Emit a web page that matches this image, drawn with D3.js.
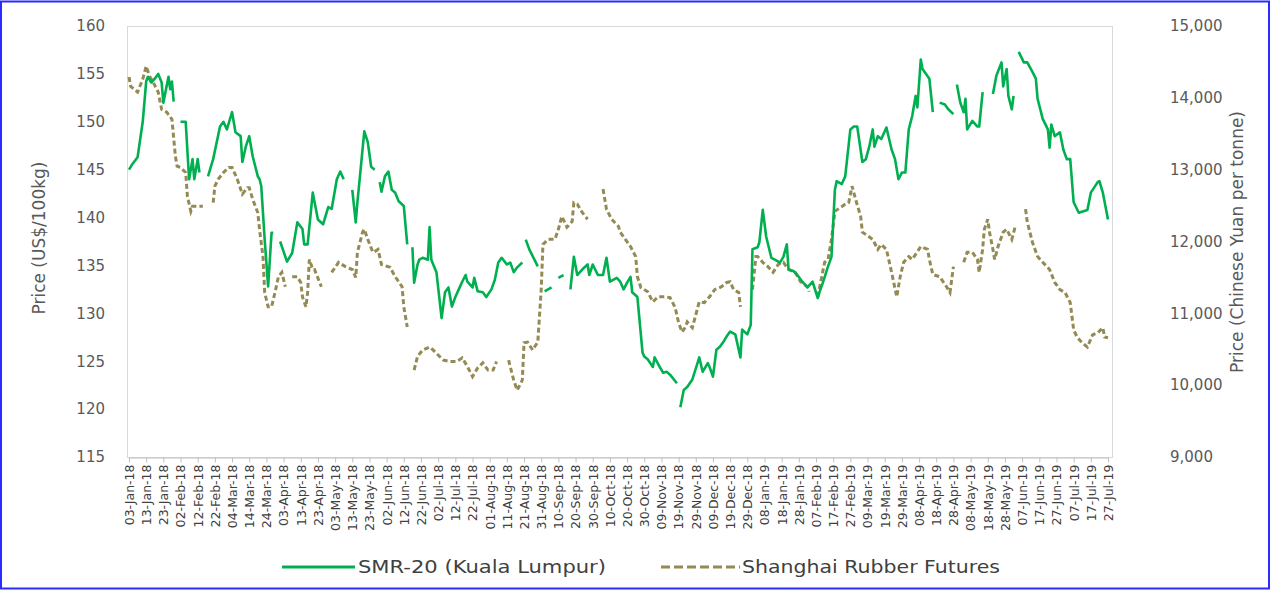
<!DOCTYPE html>
<html>
<head>
<meta charset="utf-8">
<script src="https://cdn.jsdelivr.net/npm/d3@7"></script>
<style>
  body { margin: 0; background: #fff; }
  text { font-family: "DejaVu Sans", sans-serif; fill: #595959; }
</style>
</head>
<body>
<svg id="chart" width="1271" height="596"></svg>
<script>
// SMR-20 (Kuala Lumpur), US$/100kg  (null = break in the line)
const smr20 = [
  ["2018-01-03",145.0],["2018-01-05",145.6],["2018-01-08",146.3],["2018-01-11",150.0],["2018-01-13",154.2],
  ["2018-01-14",154.7],["2018-01-16",154.1],["2018-01-18",154.5],["2018-01-20",155.0],["2018-01-22",154.1],
  ["2018-01-23",152.0],["2018-01-26",154.7],["2018-01-27",153.4],["2018-01-28",154.2],["2018-01-29",152.1],
  ["2018-01-31",null],
  ["2018-02-02",150.0],["2018-02-05",150.0],["2018-02-07",144.0],["2018-02-09",146.1],["2018-02-10",144.0],
  ["2018-02-12",146.1],["2018-02-13",144.7],["2018-02-15",null],
  ["2018-02-18",144.3],["2018-02-21",146.1],["2018-02-25",149.5],["2018-02-27",150.0],["2018-03-01",149.2],
  ["2018-03-04",151.0],["2018-03-06",148.9],["2018-03-09",148.5],["2018-03-10",145.8],["2018-03-12",147.4],
  ["2018-03-14",148.5],["2018-03-16",146.4],["2018-03-19",144.3],["2018-03-20",144.0],["2018-03-21",143.3],
  ["2018-03-23",137.7],["2018-03-25",132.8],["2018-03-27",138.4],["2018-03-28",138.4],["2018-03-30",null],
  ["2018-04-01",137.5],["2018-04-05",135.4],["2018-04-08",136.3],["2018-04-11",139.5],["2018-04-14",138.8],
  ["2018-04-15",137.2],["2018-04-17",137.2],["2018-04-20",142.6],["2018-04-23",139.8],["2018-04-26",139.3],
  ["2018-04-29",141.1],["2018-05-01",140.9],["2018-05-04",144.0],["2018-05-06",144.8],["2018-05-08",144.0],
  ["2018-05-10",null],
  ["2018-05-13",142.9],["2018-05-15",139.5],["2018-05-16",141.6],["2018-05-20",149.0],["2018-05-22",147.9],
  ["2018-05-24",145.3],["2018-05-26",145.0],["2018-05-28",null],
  ["2018-05-29",143.7],["2018-05-30",142.7],["2018-06-01",144.3],["2018-06-03",144.8],["2018-06-05",142.9],
  ["2018-06-07",142.6],["2018-06-09",141.7],["2018-06-12",141.2],["2018-06-14",137.2],["2018-06-16",null],
  ["2018-06-17",136.9],["2018-06-18",133.2],["2018-06-20",135.1],["2018-06-21",135.6],["2018-06-23",135.8],
  ["2018-06-26",135.6],["2018-06-27",139.0],["2018-06-28",135.6],["2018-07-01",134.3],["2018-07-04",129.5],
  ["2018-07-06",132.2],["2018-07-08",132.7],["2018-07-10",130.7],["2018-07-12",131.7],["2018-07-14",132.5],
  ["2018-07-16",133.3],["2018-07-18",134.0],["2018-07-19",133.3],["2018-07-22",132.7],["2018-07-23",133.7],
  ["2018-07-25",132.3],["2018-07-28",132.2],["2018-07-30",131.7],["2018-08-02",132.5],["2018-08-04",133.5],
  ["2018-08-06",135.3],["2018-08-08",135.8],["2018-08-11",135.1],["2018-08-13",135.3],["2018-08-15",134.3],
  ["2018-08-17",134.8],["2018-08-20",135.3],["2018-08-21",null],
  ["2018-08-22",137.7],["2018-08-24",136.7],["2018-08-29",134.9],["2018-08-31",null],
  ["2018-09-02",132.3],["2018-09-06",132.7],["2018-09-08",null],
  ["2018-09-10",133.7],["2018-09-13",134.0],["2018-09-15",null],
  ["2018-09-17",132.5],["2018-09-19",135.9],["2018-09-21",134.0],["2018-09-24",134.6],["2018-09-27",135.1],
  ["2018-09-28",134.0],["2018-09-30",135.1],["2018-10-03",134.0],["2018-10-06",134.0],["2018-10-08",135.8],
  ["2018-10-10",133.3],["2018-10-14",133.7],["2018-10-16",133.3],["2018-10-18",132.5],["2018-10-20",133.2],
  ["2018-10-22",133.8],["2018-10-23",132.2],["2018-10-26",131.7],["2018-10-29",125.9],["2018-10-30",125.5],
  ["2018-11-01",125.2],["2018-11-04",124.4],["2018-11-05",125.4],["2018-11-08",124.4],["2018-11-10",123.8],
  ["2018-11-12",123.9],["2018-11-14",123.6],["2018-11-18",122.7],["2018-11-19",null],
  ["2018-11-20",120.2],["2018-11-22",122.0],["2018-11-24",122.3],["2018-11-27",123.1],["2018-11-30",124.8],
  ["2018-12-01",125.4],["2018-12-03",123.9],["2018-12-06",124.8],["2018-12-07",124.4],["2018-12-09",123.4],
  ["2018-12-11",126.2],["2018-12-13",126.5],["2018-12-15",127.0],["2018-12-17",127.6],["2018-12-19",128.1],
  ["2018-12-22",127.8],["2018-12-25",125.4],["2018-12-26",128.3],["2018-12-29",127.8],["2018-12-31",128.8],
  ["2019-01-01",136.7],["2019-01-04",136.9],["2019-01-05",137.4],["2019-01-07",140.8],["2019-01-09",138.0],
  ["2019-01-12",135.8],["2019-01-14",135.6],["2019-01-17",135.3],["2019-01-19",135.9],["2019-01-21",137.2],
  ["2019-01-22",134.6],["2019-01-25",134.4],["2019-01-28",133.8],["2019-01-30",133.3],["2019-02-02",132.7],
  ["2019-02-05",133.3],["2019-02-08",131.6],["2019-02-09",132.2],["2019-02-11",133.2],["2019-02-14",134.9],
  ["2019-02-16",135.9],["2019-02-18",142.9],["2019-02-19",143.8],["2019-02-22",143.5],["2019-02-24",144.3],
  ["2019-02-27",149.2],["2019-03-01",149.5],["2019-03-03",149.5],["2019-03-06",145.8],["2019-03-08",146.1],
  ["2019-03-10",147.4],["2019-03-12",149.2],["2019-03-13",147.4],["2019-03-15",148.5],["2019-03-17",148.2],
  ["2019-03-20",149.4],["2019-03-23",147.1],["2019-03-25",146.1],["2019-03-27",144.0],["2019-03-29",144.7],
  ["2019-03-31",144.7],["2019-04-02",149.2],["2019-04-04",150.6],["2019-04-06",152.7],["2019-04-07",151.5],
  ["2019-04-09",156.5],["2019-04-10",155.5],["2019-04-14",154.5],["2019-04-16",151.0],["2019-04-18",null],
  ["2019-04-20",152.0],["2019-04-23",151.8],["2019-04-25",151.3],["2019-04-28",150.8],["2019-04-29",null],
  ["2019-04-30",153.9],["2019-05-02",152.0],["2019-05-04",151.0],["2019-05-05",152.4],["2019-05-06",149.2],
  ["2019-05-09",150.1],["2019-05-12",149.5],["2019-05-13",149.5],["2019-05-15",153.1],["2019-05-18",null],
  ["2019-05-21",152.9],["2019-05-23",154.8],["2019-05-26",156.2],["2019-05-27",153.7],["2019-05-29",155.5],
  ["2019-05-30",152.7],["2019-06-01",151.3],["2019-06-02",152.7],["2019-06-04",null],
  ["2019-06-05",157.3],["2019-06-08",156.2],["2019-06-10",156.2],["2019-06-13",155.2],["2019-06-15",154.5],
  ["2019-06-16",152.4],["2019-06-19",150.3],["2019-06-22",149.2],["2019-06-23",147.3],["2019-06-24",149.7],
  ["2019-06-26",148.5],["2019-06-29",148.9],["2019-07-01",147.1],["2019-07-03",146.1],["2019-07-05",146.1],
  ["2019-07-07",141.6],["2019-07-10",140.5],["2019-07-15",140.8],["2019-07-17",142.6],["2019-07-21",143.7],
  ["2019-07-22",143.8],["2019-07-24",142.6],["2019-07-27",139.8]
];

// Shanghai Rubber Futures, CNY/tonne
const shanghai = [
  ["2018-01-03",14290],["2018-01-04",14160],["2018-01-08",14080],["2018-01-11",14260],["2018-01-13",14440],
  ["2018-01-15",14300],["2018-01-17",14220],["2018-01-20",14080],["2018-01-22",13840],["2018-01-25",13800],
  ["2018-01-28",13700],["2018-01-30",13190],["2018-01-31",13050],["2018-02-02",13030],["2018-02-05",12960],
  ["2018-02-06",12630],["2018-02-08",12420],["2018-02-09",12490],["2018-02-15",12490],["2018-02-17",null],
  ["2018-02-21",12540],["2018-02-22",12770],["2018-02-24",12870],["2018-02-27",12960],["2018-03-02",13030],
  ["2018-03-04",13030],["2018-03-07",12870],["2018-03-10",12660],["2018-03-13",12750],["2018-03-14",12750],
  ["2018-03-16",12590],["2018-03-19",12400],["2018-03-20",12170],["2018-03-22",11790],["2018-03-23",11290],
  ["2018-03-25",11090],["2018-03-27",11090],["2018-03-29",11290],["2018-03-31",11510],["2018-04-02",11570],
  ["2018-04-04",11370],["2018-04-05",null],
  ["2018-04-08",11510],["2018-04-11",11510],["2018-04-13",11430],["2018-04-14",11230],["2018-04-16",11090],
  ["2018-04-17",11290],["2018-04-18",11750],["2018-04-20",11610],["2018-04-21",11610],["2018-04-25",11370],
  ["2018-04-28",null],
  ["2018-05-01",11570],["2018-05-05",11710],["2018-05-09",11650],["2018-05-13",11610],["2018-05-15",11500],
  ["2018-05-16",11850],["2018-05-19",12130],["2018-05-20",12170],["2018-05-22",12030],["2018-05-25",11850],
  ["2018-05-26",11860],["2018-05-28",11890],["2018-05-30",11680],["2018-06-04",11640],["2018-06-07",11510],
  ["2018-06-11",11370],["2018-06-12",11090],["2018-06-14",10810],["2018-06-16",null],
  ["2018-06-18",10210],["2018-06-20",10400],["2018-06-23",10490],["2018-06-27",10530],["2018-06-29",10490],
  ["2018-07-05",10350],["2018-07-09",10330],["2018-07-13",10330],["2018-07-16",10380],["2018-07-19",10260],
  ["2018-07-22",10120],["2018-07-25",10240],["2018-07-28",10310],["2018-07-31",10210],["2018-08-03",10210],
  ["2018-08-05",10330],["2018-08-08",null],
  ["2018-08-12",10350],["2018-08-15",10070],["2018-08-17",9930],["2018-08-20",10070],["2018-08-21",10590],
  ["2018-08-23",10600],["2018-08-26",10490],["2018-08-29",10600],["2018-08-31",11330],["2018-09-01",11960],
  ["2018-09-04",12030],["2018-09-08",12030],["2018-09-10",12170],["2018-09-12",12350],["2018-09-15",12200],
  ["2018-09-18",12280],["2018-09-19",12540],["2018-09-21",12520],["2018-09-24",12400],["2018-09-27",12310],
  ["2018-09-30",null],
  ["2018-10-06",12730],["2018-10-08",12450],["2018-10-11",12310],["2018-10-15",12210],["2018-10-16",12130],
  ["2018-10-19",12030],["2018-10-22",11930],["2018-10-25",11790],["2018-10-26",11510],["2018-10-28",11360],
  ["2018-11-01",11300],["2018-11-04",11160],["2018-11-07",11230],["2018-11-11",11230],["2018-11-14",11220],
  ["2018-11-17",11080],["2018-11-19",10870],["2018-11-21",10740],["2018-11-23",10810],["2018-11-24",10880],
  ["2018-11-27",10800],["2018-12-01",11160],["2018-12-04",11150],["2018-12-07",11230],["2018-12-10",11330],
  ["2018-12-14",11370],["2018-12-17",11430],["2018-12-19",11440],["2018-12-21",11330],["2018-12-24",11290],
  ["2018-12-25",11090],["2018-12-27",null],
  ["2019-01-01",11330],["2019-01-03",11790],["2019-01-04",11790],["2019-01-07",11710],["2019-01-10",11650],
  ["2019-01-13",11570],["2019-01-16",11680],["2019-01-19",11710],["2019-01-22",11610],["2019-01-26",11570],
  ["2019-01-29",11440],["2019-02-02",11370],["2019-02-03",11300],["2019-02-06",null],
  ["2019-02-08",11230],["2019-02-10",11470],["2019-02-12",11710],["2019-02-14",11750],["2019-02-16",12030],
  ["2019-02-18",12420],["2019-02-21",12470],["2019-02-24",12520],["2019-02-26",12540],["2019-02-28",12770],
  ["2019-03-02",12590],["2019-03-05",12350],["2019-03-06",12130],["2019-03-12",12030],["2019-03-15",11890],
  ["2019-03-17",11960],["2019-03-20",11890],["2019-03-23",11570],["2019-03-26",11230],["2019-03-28",11510],
  ["2019-03-30",11710],["2019-04-02",11790],["2019-04-04",11750],["2019-04-09",11930],["2019-04-13",11890],
  ["2019-04-14",11750],["2019-04-16",11540],["2019-04-20",11510],["2019-04-24",11370],["2019-04-26",11290],
  ["2019-04-28",11650],["2019-04-30",null],
  ["2019-05-04",11710],["2019-05-06",11850],["2019-05-09",11850],["2019-05-12",11750],["2019-05-13",11570],
  ["2019-05-15",11890],["2019-05-16",12170],["2019-05-18",12310],["2019-05-19",12130],["2019-05-21",11890],
  ["2019-05-22",11750],["2019-05-24",11930],["2019-05-27",12130],["2019-05-29",12170],["2019-06-01",12030],
  ["2019-06-03",12210],["2019-06-06",null],
  ["2019-06-09",12450],["2019-06-10",12270],["2019-06-13",11990],["2019-06-16",11790],["2019-06-19",11710],
  ["2019-06-23",11610],["2019-06-26",11430],["2019-06-29",11330],["2019-07-02",11290],["2019-07-05",11150],
  ["2019-07-07",10770],["2019-07-09",10670],["2019-07-12",10590],["2019-07-15",10530],["2019-07-18",10700],
  ["2019-07-21",10730],["2019-07-24",10800],["2019-07-25",10670],["2019-07-27",10660]
];

const dateTicks = [
  "03-Jan-18","13-Jan-18","23-Jan-18","02-Feb-18","12-Feb-18","22-Feb-18","04-Mar-18","14-Mar-18","24-Mar-18",
  "03-Apr-18","13-Apr-18","23-Apr-18","03-May-18","13-May-18","23-May-18","02-Jun-18","12-Jun-18","22-Jun-18",
  "02-Jul-18","12-Jul-18","22-Jul-18","01-Aug-18","11-Aug-18","21-Aug-18","31-Aug-18","10-Sep-18","20-Sep-18",
  "30-Sep-18","10-Oct-18","20-Oct-18","30-Oct-18","09-Nov-18","19-Nov-18","29-Nov-18","09-Dec-18","19-Dec-18",
  "29-Dec-18","08-Jan-19","18-Jan-19","28-Jan-19","07-Feb-19","17-Feb-19","27-Feb-19","09-Mar-19","19-Mar-19",
  "29-Mar-19","08-Apr-19","18-Apr-19","28-Apr-19","08-May-19","18-May-19","28-May-19","07-Jun-19","17-Jun-19",
  "27-Jun-19","07-Jul-19","17-Jul-19","27-Jul-19"
];
const usdTicks = [115, 120, 125, 130, 135, 140, 145, 150, 155, 160];
const cnyTicks = [9000, 10000, 11000, 12000, 13000, 14000, 15000];

const parseDay = d3.timeParse("%Y-%m-%d"),
      parseTick = d3.timeParse("%d-%b-%y");

var svg = d3.select("#chart"),
    plot = {left: 127, right: 1112, top: 26, bottom: 457};

var x = d3.scaleTime()
  .domain([parseTick(dateTicks[0]), parseTick(dateTicks[dateTicks.length - 1])])
  .range([129, 1108]);
var yL = d3.scaleLinear().domain([115, 160]).range([plot.bottom, plot.top]);
var yR = d3.scaleLinear().domain([9000, 15000]).range([plot.bottom, plot.top]);

// outer frame
svg.append("rect")
  .attr("x", 1).attr("y", 1.5).attr("width", 1268).attr("height", 587)
  .attr("fill", "none").attr("stroke", "#2b2bff").attr("stroke-width", 2);

// plot area border
svg.append("rect")
  .attr("x", plot.left + 0.5).attr("y", plot.top + 0.5)
  .attr("width", plot.right - plot.left).attr("height", plot.bottom - plot.top)
  .attr("fill", "none").attr("stroke", "#d9d9d9");

// x axis
var xAxis = svg.append("g")
  .attr("transform", `translate(0,${plot.bottom + 0.5})`)
  .call(d3.axisBottom(x)
    .tickValues(dateTicks.map(parseTick))
    .tickFormat(d3.timeFormat("%d-%b-%y"))
    .tickSize(5)
    .tickSizeOuter(0));
xAxis.select(".domain").attr("stroke", "#bfbfbf");
xAxis.selectAll(".tick line").attr("stroke", "#bfbfbf");
xAxis.selectAll(".tick text")
  .attr("transform", "rotate(-90)")
  .attr("text-anchor", "end")
  .attr("x", -7).attr("y", 0).attr("dy", "0.35em")
  .style("font-size", "12.5px").style("fill", "#404040");

// left y axis
var left = svg.append("g")
  .attr("transform", `translate(${plot.left},0)`)
  .call(d3.axisLeft(yL).tickValues(usdTicks).tickSize(0).tickPadding(22));
left.select(".domain").remove();
left.selectAll("text").style("font-size", "15px").attr("fill", null);

// right y axis
var right = svg.append("g")
  .attr("transform", `translate(${plot.right},0)`)
  .call(d3.axisRight(yR).tickValues(cnyTicks).tickSize(0).tickPadding(58)
    .tickFormat(d3.format(",")));
right.select(".domain").remove();
right.selectAll("text").style("font-size", "15px").attr("fill", null);

// lines
var lineL = d3.line()
  .defined(d => d[1] != null)
  .x(d => x(parseDay(d[0])))
  .y(d => yL(d[1]));
var lineR = d3.line()
  .defined(d => d[1] != null)
  .x(d => x(parseDay(d[0])))
  .y(d => yR(d[1]));

svg.append("path")
  .datum(shanghai)
  .attr("d", lineR)
  .attr("fill", "none")
  .attr("stroke", "#948a54")
  .attr("stroke-width", 3)
  .attr("stroke-dasharray", "5,3");

svg.append("path")
  .datum(smr20)
  .attr("d", lineL)
  .attr("fill", "none")
  .attr("stroke", "#00b050")
  .attr("stroke-width", 2.6)
  .attr("stroke-linejoin", "round");

// axis titles
svg.append("text")
  .attr("transform", "translate(45,238) rotate(-90)")
  .attr("text-anchor", "middle")
  .style("font-size", "17px")
  .text("Price (US$/100kg)");

svg.append("text")
  .attr("transform", "translate(1243,242) rotate(-90)")
  .attr("text-anchor", "middle")
  .style("font-size", "17px")
  .text("Price (Chinese Yuan per tonne)");

// legend
var legend = svg.append("g").style("font-size", "18px");
legend.append("line")
  .attr("x1", 282).attr("x2", 355).attr("y1", 567).attr("y2", 567)
  .attr("stroke", "#00b050").attr("stroke-width", 3);
legend.append("text")
  .attr("x", 358).attr("y", 567).attr("dy", "0.35em")
  .attr("textLength", 248).attr("lengthAdjust", "spacingAndGlyphs")
  .style("fill", "#404040")
  .text("SMR-20 (Kuala Lumpur)");
legend.append("line")
  .attr("x1", 661).attr("x2", 740).attr("y1", 567).attr("y2", 567)
  .attr("stroke", "#948a54").attr("stroke-width", 3)
  .attr("stroke-dasharray", "9,4");
legend.append("text")
  .attr("x", 742).attr("y", 567).attr("dy", "0.35em")
  .attr("textLength", 258).attr("lengthAdjust", "spacingAndGlyphs")
  .style("fill", "#404040")
  .text("Shanghai Rubber Futures");
</script>
</body>
</html>
